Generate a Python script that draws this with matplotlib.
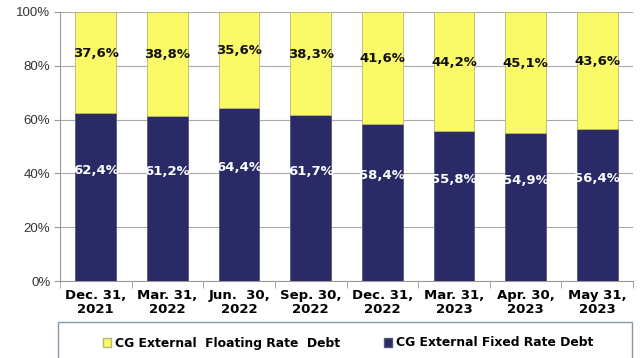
import matplotlib.pyplot as plt
from matplotlib.patches import Rectangle, Patch
import numpy as np

categories = ["Dec. 31,\n2021", "Mar. 31,\n2022", "Jun.  30,\n2022", "Sep. 30,\n2022",
              "Dec. 31,\n2022", "Mar. 31,\n2023", "Apr. 30,\n2023", "May 31,\n2023"]
fixed_rate = [62.4, 61.2, 64.4, 61.7, 58.4, 55.8, 54.9, 56.4]
floating_rate = [37.6, 38.8, 35.6, 38.3, 41.6, 44.2, 45.1, 43.6]
yticks = [0, 20, 40, 60, 80, 100]

navy = "#2A2A66"
yellow = "#FAFA68"

fig = plt.figure(figsize=(6.4, 3.58), dpi=100)
ax = fig.add_axes([60 / 640, 1 - 281 / 358, 573 / 640, 269 / 358])

x = np.arange(len(categories))
w = 0.57
ax.bar(x, fixed_rate, width=w, color=navy, edgecolor="#55557a", linewidth=0.6, zorder=3)
ax.bar(x, floating_rate, width=w, bottom=fixed_rate, color=yellow,
       edgecolor="#b8b86a", linewidth=0.6, zorder=3)

lab_font = dict(family="DejaVu Sans", fontweight="bold", fontsize=9.5, ha="center", va="center", zorder=5)
for xi, f, fl in zip(x, fixed_rate, floating_rate):
    ax.text(xi, f / 2 + 10, f"{f:.1f}%".replace(".", ","), color="white", **lab_font)
    ax.text(xi, f + fl / 2 + 3.5, f"{fl:.1f}%".replace(".", ","), color="#111111", **lab_font)

ax.set_xlim(-0.5, len(categories) - 0.5)
ax.set_ylim(0, 100)
ax.set_yticks(yticks)
ax.set_yticklabels([f"{v}%" for v in yticks], fontsize=9.5, color="#333333", family="Liberation Sans")
ax.set_xticks(x)
ax.set_xticklabels(categories, fontsize=9.5, fontweight="bold", family="DejaVu Sans", linespacing=1.1)
ax.set_xticks(np.arange(-0.5, len(categories)), minor=True)
ax.tick_params(axis="x", which="major", length=0, pad=6)
ax.tick_params(axis="x", which="minor", length=5, color="#999999")
ax.tick_params(axis="y", length=4, color="#999999", pad=3)
ax.yaxis.grid(True, color="#aaaaaa", linewidth=0.8, zorder=0)
for side in ("top", "right"):
    ax.spines[side].set_visible(False)
for side in ("left", "bottom"):
    ax.spines[side].set_color("#999999")

# legend box along the bottom
fig.patches.append(Rectangle((58 / 640, -0.05), 574 / 640, 0.05 + 1 - 322 / 358,
                             transform=fig.transFigure, fill=False,
                             edgecolor="#8899aa", linewidth=1.0))
handles = [Patch(facecolor=yellow, edgecolor="#b8b86a", label="CG External  Floating Rate  Debt"),
           Patch(facecolor=navy, edgecolor="#55557a", label="CG External Fixed Rate Debt")]
fig.legend(handles=handles, loc="center", bbox_to_anchor=(348 / 640, 1 - 343 / 358),
           ncol=2, frameon=False, prop=dict(family="DejaVu Sans", weight="bold", size=8.9),
           handlelength=0.7, handleheight=0.7, handletextpad=0.3, columnspacing=3.5)

fig.savefig("out.png", dpi=100)
